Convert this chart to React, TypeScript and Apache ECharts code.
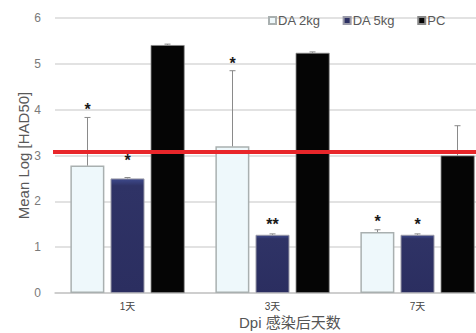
import React, { useEffect, useRef } from "react";
import * as echarts from "echarts";

const categories = ["1天", "3天", "7天"];
const seriesNames = ["DA 2kg", "DA 5kg", "PC"];
const da2kg = [2.78, 3.2, 1.33];
const da5kg = [2.5, 1.27, 1.27];
const pc = [5.41, 5.24, 3.0];
// upper ends of error bars, per series
const errHigh = [
  [3.83, 4.85, 1.38],
  [2.52, 1.29, 1.29],
  [5.43, 5.26, 3.65],
];
// significance marks: [category, series, mark, y position]
const marks: [number, number, string, number][] = [
  [0, 0, "*", 4.1],
  [0, 1, "*", 2.97],
  [1, 0, "*", 5.1],
  [1, 1, "**", 1.58],
  [2, 0, "*", 1.65],
  [2, 1, "*", 1.58],
];
const thresholdValue = 3.08;
const yTicks = [0, 6, 1];

export default function App() {
  const ref = useRef<HTMLDivElement>(null);
  useEffect(() => {
    if (!ref.current) return;
    const chart = echarts.init(ref.current, undefined, { renderer: "svg" });
    const values = [da2kg, da5kg, pc];
    const barWidth = 34;
    const step = 40;
    const errData: any[] = [];
    for (let s = 0; s < 3; s++) {
      for (let c = 0; c < categories.length; c++) {
        errData.push([c, values[s][c], errHigh[s][c], s]);
      }
    }
    const markData = marks.map((m) => [m[0], m[3], m[1], m[2]]);
    chart.setOption({
      animation: false,
      textStyle: { fontFamily: "Arial, 'Liberation Sans', 'Noto Sans CJK SC', sans-serif" },
      grid: { left: 55, right: -14, top: 18, bottom: 40, outerBoundsMode: "none", containLabel: false },
      legend: {
        data: seriesNames,
        left: 263,
        top: 9,
        itemWidth: 7,
        itemHeight: 7,
        itemGap: 22,
        icon: "rect",
        textStyle: { color: "#595959", fontSize: 13, padding: [0, 0, 0, -3] },
      },
      xAxis: {
        type: "category",
        data: categories,
        axisTick: { show: false },
        axisLine: { lineStyle: { color: "#c8c8c8", width: 1.5 } },
        axisLabel: { color: "#444", fontSize: 10, margin: 8 },
      },
      yAxis: {
        type: "value",
        min: yTicks[0],
        max: yTicks[1],
        interval: yTicks[2],
        name: "Mean Log [HAD50]",
        nameLocation: "middle",
        nameGap: 32,
        nameMoveOverlap: false,
        nameTextStyle: { color: "#595959", fontSize: 15, verticalAlign: "middle" },
        axisLine: { show: false },
        axisTick: { show: false },
        axisLabel: { color: "#7a7a7a", fontSize: 12, margin: 14 },
        splitLine: { lineStyle: { color: "#d9d9d9", width: 1.5 } },
      },
      graphic: [
        {
          type: "text",
          left: 239,
          top: 315,
          style: { text: "Dpi 感染后天数", fill: "#555", fontSize: 15, fontFamily: "Arial, 'Noto Sans CJK SC', sans-serif" },
        },
      ],
      series: [
        {
          name: seriesNames[0],
          type: "bar",
          data: da2kg,
          barWidth,
          barGap: "18%",
          itemStyle: { color: "#eef8fb", borderColor: "#a9b0b0", borderWidth: 1.5 },
          markLine: {
            silent: true,
            symbol: "none",
            label: { show: false },
            lineStyle: { color: "#e8262a", width: 4, type: "solid" },
            data: [[{ x: 53, yAxis: thresholdValue }, { x: 476, yAxis: thresholdValue }]],
            z: 10,
          },
          z: 2,
        },
        {
          name: seriesNames[1],
          type: "bar",
          data: da5kg,
          barWidth,
          barGap: "18%",
          itemStyle: {
            color: new echarts.graphic.LinearGradient(0, 0, 0, 1, [
              { offset: 0, color: "#3e4a8c" },
              { offset: 0.06, color: "#2f3366" },
              { offset: 1, color: "#2b2e60" },
            ]),
            borderColor: "#9a9aa8",
            borderWidth: 1,
          },
          z: 2,
        },
        {
          name: seriesNames[2],
          type: "bar",
          data: pc,
          barWidth,
          barGap: "18%",
          itemStyle: { color: "#050505", borderColor: "#888", borderWidth: 0.8 },
          z: 2,
        },
        {
          type: "custom",
          data: errData,
          z: 3,
          silent: true,
          renderItem: (params: any, api: any) => {
            const c = api.value(0);
            const s = api.value(3);
            const off = (s - 1) * step;
            const top = api.coord([c, api.value(1)]);
            const high = api.coord([c, api.value(2)]);
            const x = top[0] + off;
            return {
              type: "group",
              children: [
                { type: "line", shape: { x1: x, y1: top[1], x2: x, y2: high[1] }, style: { stroke: "#8a8a8a", lineWidth: 1 } },
                { type: "line", shape: { x1: x - 3, y1: high[1], x2: x + 3, y2: high[1] }, style: { stroke: "#8a8a8a", lineWidth: 1 } },
              ],
            };
          },
        },
        {
          type: "custom",
          data: markData,
          z: 4,
          silent: true,
          renderItem: (params: any, api: any) => {
            const c = api.value(0);
            const s = api.value(2);
            const p = api.coord([c, api.value(1)]);
            const txt = markData[params.dataIndex][3];
            return {
              type: "text",
              x: p[0] + (s - 1) * step,
              y: p[1] + 4,
              style: { text: txt, fill: "#1a1a1a", fontSize: 16, fontWeight: "bold", align: "center", verticalAlign: "middle", fontFamily: "Arial, sans-serif" },
            };
          },
        },
      ],
    });
    return () => chart.dispose();
  }, []);
  return <div ref={ref} style={{ width: 476, height: 333, position: "absolute", left: 0, top: 0 }} />;
}
